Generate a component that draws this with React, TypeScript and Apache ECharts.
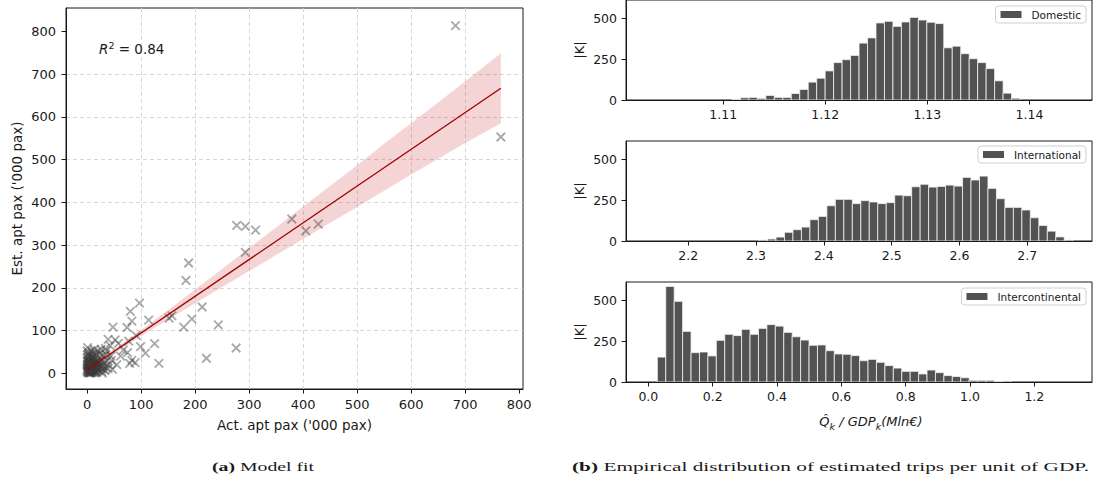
import React, { useEffect, useRef } from 'react';
import * as echarts from 'echarts';

// ---------- Left panel: model fit ----------
const SCATTER_POINTS: [number, number][] = [
  [682, 814], [766, 553], [277, 346], [293, 344], [312, 335], [293, 283], [379, 361], [405, 333], [428, 349],
  [188, 258], [183, 217], [213, 155], [243, 113], [194, 127], [179, 108], [152, 129], [157, 134], [221, 35], [276, 59],
  [97, 164], [80, 145], [83, 122], [114, 124], [48, 108], [74, 107], [125, 69], [133, 23], [108, 47], [99, 62],
  [91, 88], [77, 75], [75, 48], [83, 30], [89, 25], [79, 23], [39, 79], [52, 78], [43, 64], [34, 58], [47, 9],
  [39, 11], [67, 54], [58, 70], [62, 40], [45, 30], [55, 20],
  [1, 2], [2, 5], [3, 1], [4, 8], [5, 3], [6, 12], [7, 6], [8, 2], [9, 15], [10, 9], [11, 4], [12, 18], [13, 7],
  [14, 22], [15, 11], [16, 3], [17, 26], [18, 14], [19, 8], [20, 30], [2, 14], [3, 20], [4, 26], [5, 33], [6, 40],
  [3, 48], [1, 60], [8, 52], [10, 45], [12, 38], [14, 56], [16, 48], [18, 42], [20, 52], [22, 36], [24, 46],
  [25, 20], [26, 12], [28, 28], [30, 40], [22, 6], [23, 16], [27, 4], [29, 18], [32, 24], [35, 44], [1, 10],
  [2, 25], [1, 35], [4, 15], [6, 22], [7, 30], [9, 24], [11, 28], [13, 33], [15, 27], [17, 19], [19, 24],
  [21, 22], [5, 0], [7, 1], [9, 5], [11, 12], [13, 2], [15, 16], [3, 9], [6, 7], [8, 10], [10, 20], [12, 25],
  [0, 18], [0, 4], [2, 38], [4, 42], [30, 10], [34, 14], [38, 30], [40, 20], [44, 40], [36, 52], [26, 56],
  [28, 0], [33, 6],
  [0, 8], [1, 13], [2, 18], [3, 28], [4, 3], [5, 17], [6, 27], [7, 12], [8, 20], [9, 33], [10, 2], [11, 16],
  [12, 9], [13, 21], [14, 5], [2, 30], [4, 22], [6, 2], [8, 36], [10, 13], [1, 22], [3, 12], [5, 6], [7, 17],
  [16, 10], [18, 2], [20, 14], [0, 28], [1, 44], [0, 52],
];
const FIT_X = [0, 766];
const FIT_Y = [8, 667];
const BAND_X = [0, 50, 100, 150, 200, 250, 300, 350, 400, 450, 500, 550, 600, 650, 700, 766];
const BAND_LO = [1, 46, 87, 126, 164, 202, 239, 277, 314, 352, 389, 427, 465, 502, 539, 585];
const BAND_HI = [15, 56, 101, 148, 196, 244, 293, 341, 390, 438, 487, 537, 585, 634, 683, 749];
const SCATTER_TICKS = [0, 100, 200, 300, 400, 500, 600, 700, 800];

// ---------- Right panel: histograms (50 bins each) ----------
const DOM_START = 1.10256;
const DOM_WIDTH = 0.00083;
const DOM_COUNTS = [
  0, 0, 0, 0, 0, 0, 0, 0, 0, 0,
  4, 14, 16, 10, 28, 16, 16, 40, 65, 110,
  134, 179, 230, 248, 274, 350, 382, 474, 484, 453,
  480, 508, 492, 478, 470, 321, 331, 285, 254, 230,
  193, 118, 42, 11, 0, 0, 0, 0, 0, 0,
];
const INT_START = 2.142;
const INT_WIDTH = 0.0125;
const INT_COUNTS = [
  0, 0, 0, 0, 0, 0, 0, 0, 0, 0, 0, 0, 0,
  6, 12, 24, 53, 69, 85, 130, 150, 215, 254,
  254, 228, 246, 238, 228, 234, 280, 276, 331, 346,
  329, 333, 341, 335, 388, 372, 396, 321, 258, 205,
  205, 189, 142, 95, 60, 25, 6,
];
const ICT_START = 0.0018;
const ICT_WIDTH = 0.0262;
const ICT_COUNTS = [
  0,
  152, 583, 492, 309, 179, 183, 159, 254, 291, 283,
  321, 291, 327, 350, 341, 303, 276, 256, 224, 226,
  191, 171, 169, 161, 130, 138, 120, 100, 85, 65,
  65, 49, 73, 57, 39, 33, 26, 10, 10, 10,
  3, 6,
  0, 0, 0, 0, 0, 0, 0,
];
const DOM_TICKS = [1.11, 1.12, 1.13, 1.14];
const INT_TICKS = [2.2, 2.3, 2.4, 2.5, 2.6, 2.7];
const ICT_TICKS = [0, 0.2, 0.4, 0.6, 0.8, 1.0, 1.2];
const COUNT_TICKS = [0, 250, 500];

const FONT = "'DejaVu Sans', sans-serif";
const SERIF = "'Liberation Serif', 'Times New Roman', serif";
const INK = '#1a1a1a';
const BAR = '#525252';

function binTable(start: number, width: number, counts: number[]) {
  return counts.map((c, i) => [start + i * width, start + (i + 1) * width, c]);
}

const histRender = (params: any, api: any) => {
  const c = api.value(2);
  if (!c) return null;
  const a = api.coord([api.value(0), 0]);
  const b = api.coord([api.value(1), c]);
  return {
    type: 'rect',
    shape: { x: a[0], y: b[1], width: b[0] - a[0], height: a[1] - b[1] },
    style: { fill: BAR, stroke: '#f2f2f2', lineWidth: 0.8 },
  };
};

function histXAxis(gridIndex: number, min: number, max: number, ticks: number[], digits: number) {
  return {
    type: 'value', gridIndex, min, max, z: 5,
    axisLine: { show: true, onZero: false, lineStyle: { color: INK, width: 1 } },
    axisTick: { show: true, length: 4.5, customValues: ticks, lineStyle: { color: INK, width: 1 } },
    axisLabel: {
      customValues: ticks, color: INK, fontSize: 12.5, fontFamily: FONT, margin: 8,
      formatter: (v: number) => v.toFixed(digits),
    },
    splitLine: { show: false },
  };
}

function histYAxis(gridIndex: number, max: number) {
  return {
    type: 'value', gridIndex, min: 0, max, z: 5,
    name: '|K|', nameLocation: 'middle', nameGap: 40,
    nameTextStyle: { color: INK, fontSize: 13, fontFamily: FONT },
    axisLine: { show: true, onZero: false, lineStyle: { color: INK, width: 1 } },
    axisTick: { show: true, length: 4.5, customValues: COUNT_TICKS, lineStyle: { color: INK, width: 1 } },
    axisLabel: { customValues: COUNT_TICKS, color: INK, fontSize: 12.5, fontFamily: FONT, margin: 9 },
    splitLine: { show: false },
  };
}

function legendBox(name: string, top: number) {
  return {
    data: [{ name, icon: 'rect' }],
    right: 10, top, orient: 'horizontal',
    itemWidth: 21, itemHeight: 7, padding: [3, 5, 3, 5],
    backgroundColor: 'rgba(255,255,255,0.85)', borderColor: '#d0d0d0', borderWidth: 1, borderRadius: 3,
    textStyle: { color: INK, fontSize: 10.5, fontFamily: FONT, padding: [0, 0, 0, 5] },
    selectedMode: false,
  };
}

export default function App() {
  const ref = useRef<HTMLDivElement>(null);
  useEffect(() => {
    document.body.style.margin = '0';
    if (!ref.current) return;
    const chart = echarts.init(ref.current, undefined, { renderer: 'svg' });
    const gridBox = { show: true, borderColor: INK, borderWidth: 1, backgroundColor: 'transparent' };
    const option: any = {
      animation: false,
      backgroundColor: '#ffffff',
      textStyle: { fontFamily: FONT },
      grid: [
        { left: 66, top: 8, width: 457, height: 381, ...gridBox },
        { left: 626, top: -1, width: 466, height: 101, ...gridBox },
        { left: 626, top: 141, width: 466, height: 100, ...gridBox },
        { left: 626, top: 282, width: 466, height: 100, ...gridBox },
      ],
      legend: [
        legendBox('Domestic', 6),
        legendBox('International', 146),
        legendBox('Intercontinental', 288),
      ],
      xAxis: [
        {
          type: 'value', gridIndex: 0, min: -39, max: 807, minInterval: 100, maxInterval: 100,
          name: "Act. apt pax ('000 pax)", nameLocation: 'middle', nameGap: 29,
          nameTextStyle: { color: INK, fontSize: 13.5, fontFamily: FONT },
          axisLine: { show: true, onZero: false, lineStyle: { color: INK, width: 1 } },
          axisTick: { show: true, length: 4.5, customValues: SCATTER_TICKS, lineStyle: { color: INK, width: 1 } },
          axisLabel: { customValues: SCATTER_TICKS, color: INK, fontSize: 13, fontFamily: FONT, margin: 9 },
          splitLine: { show: true, showMinLine: false, showMaxLine: false, lineStyle: { color: '#d2d2d2', type: [4, 3], width: 0.9 } },
        },
        histXAxis(1, 1.10048, 1.14613, DOM_TICKS, 2),
        histXAxis(2, 2.1083, 2.7954, INT_TICKS, 1),
        histXAxis(3, -0.0694, 1.3792, ICT_TICKS, 1),
      ],
      yAxis: [
        {
          type: 'value', gridIndex: 0, min: -37, max: 855, minInterval: 100, maxInterval: 100,
          name: "Est. apt pax ('000 pax)", nameLocation: 'middle', nameGap: 42,
          nameTextStyle: { color: INK, fontSize: 13.5, fontFamily: FONT },
          axisLine: { show: true, onZero: false, lineStyle: { color: INK, width: 1 } },
          axisTick: { show: true, length: 4.5, customValues: SCATTER_TICKS, lineStyle: { color: INK, width: 1 } },
          axisLabel: { customValues: SCATTER_TICKS, color: INK, fontSize: 13, fontFamily: FONT, margin: 10 },
          splitLine: { show: true, showMinLine: false, showMaxLine: false, lineStyle: { color: '#d2d2d2', type: [4, 3], width: 0.9 } },
        },
        histYAxis(1, 615),
        histYAxis(2, 610),
        histYAxis(3, 610),
      ],
      series: [
        {
          type: 'custom', name: 'band', xAxisIndex: 0, yAxisIndex: 0, z: 1, silent: true,
          data: BAND_X.map((x, i) => [x, BAND_LO[i], BAND_HI[i]]),
          encode: { x: 0, y: [1, 2] },
          renderItem: (params: any, api: any) => {
            if (params.dataIndex !== 0) return null;
            const upper = BAND_X.map((x, i) => api.coord([x, BAND_HI[i]]));
            const lower = BAND_X.map((x, i) => api.coord([x, BAND_LO[i]])).reverse();
            return {
              type: 'polygon',
              shape: { points: upper.concat(lower) },
              style: { fill: 'rgba(205,60,60,0.22)' },
            };
          },
        },
        {
          type: 'scatter', name: 'pax', xAxisIndex: 0, yAxisIndex: 0, z: 3, silent: true,
          symbol: 'path://M0,0L10,10M10,0L0,10', symbolSize: 8.5,
          itemStyle: { color: 'rgba(0,0,0,0)', borderColor: 'rgba(60,60,60,0.55)', borderWidth: 1.8 },
          data: SCATTER_POINTS,
        },
        {
          type: 'line', name: 'fit', xAxisIndex: 0, yAxisIndex: 0, z: 4, silent: true,
          showSymbol: false, symbol: 'none',
          lineStyle: { color: '#a00000', width: 1.3 },
          data: FIT_X.map((x, i) => [x, FIT_Y[i]]),
        },
        {
          type: 'custom', name: 'Domestic', xAxisIndex: 1, yAxisIndex: 1, z: 2, silent: true,
          itemStyle: { color: BAR }, encode: { x: [0, 1], y: 2 },
          data: binTable(DOM_START, DOM_WIDTH, DOM_COUNTS), renderItem: histRender,
        },
        {
          type: 'custom', name: 'International', xAxisIndex: 2, yAxisIndex: 2, z: 2, silent: true,
          itemStyle: { color: BAR }, encode: { x: [0, 1], y: 2 },
          data: binTable(INT_START, INT_WIDTH, INT_COUNTS), renderItem: histRender,
        },
        {
          type: 'custom', name: 'Intercontinental', xAxisIndex: 3, yAxisIndex: 3, z: 2, silent: true,
          itemStyle: { color: BAR }, encode: { x: [0, 1], y: 2 },
          data: binTable(ICT_START, ICT_WIDTH, ICT_COUNTS), renderItem: histRender,
        },
      ],
      graphic: [
        {
          type: 'text', x: 99, y: 49, z: 10, silent: true,
          style: {
            text: '{i|R}{s|2}{n| = 0.84}',
            verticalAlign: 'middle', textVerticalAlign: 'middle',
            rich: {
              i: { fontFamily: FONT, fontStyle: 'italic', fontSize: 13.5, fill: INK, color: INK, lineHeight: 17 },
              s: { fontFamily: FONT, fontSize: 9.5, fill: INK, color: INK, verticalAlign: 'top', lineHeight: 12 },
              n: { fontFamily: FONT, fontSize: 13.5, fill: INK, color: INK, lineHeight: 17 },
            },
          },
        },
        {
          type: 'text', x: 871, y: 421, z: 10, silent: true,
          style: {
            text: '{i|Q\u0302}{s|k}{i| / GDP}{s|k}{i|(Mln€)}',
            align: 'center', textAlign: 'center', verticalAlign: 'middle', textVerticalAlign: 'middle',
            rich: {
              i: { fontFamily: FONT, fontStyle: 'italic', fontSize: 13, fill: INK, color: INK, lineHeight: 20 },
              s: { fontFamily: FONT, fontStyle: 'italic', fontSize: 9.5, fill: INK, color: INK, verticalAlign: 'bottom', lineHeight: 12 },
            },
          },
        },
        {
          type: 'text', x: 212, y: 467, scaleX: 1.52, z: 10, silent: true,
          style: {
            text: '{b|(a)}{r| Model fit}',
            verticalAlign: 'middle', textVerticalAlign: 'middle',
            rich: {
              b: { fontFamily: SERIF, fontWeight: 'bold', fontSize: 13, fill: INK, color: INK },
              r: { fontFamily: SERIF, fontSize: 13, fill: INK, color: INK },
            },
          },
        },
        {
          type: 'text', x: 572, y: 467, scaleX: 1.64, z: 10, silent: true,
          style: {
            text: '{b|(b)}{r| Empirical distribution of estimated trips per unit of GDP.}',
            verticalAlign: 'middle', textVerticalAlign: 'middle',
            rich: {
              b: { fontFamily: SERIF, fontWeight: 'bold', fontSize: 13, fill: INK, color: INK },
              r: { fontFamily: SERIF, fontSize: 13, fill: INK, color: INK },
            },
          },
        },
      ],
    };
    chart.setOption(option);
    return () => chart.dispose();
  }, []);
  return <div ref={ref} style={{ width: 1096, height: 482, position: 'absolute', left: 0, top: 0 }} />;
}
